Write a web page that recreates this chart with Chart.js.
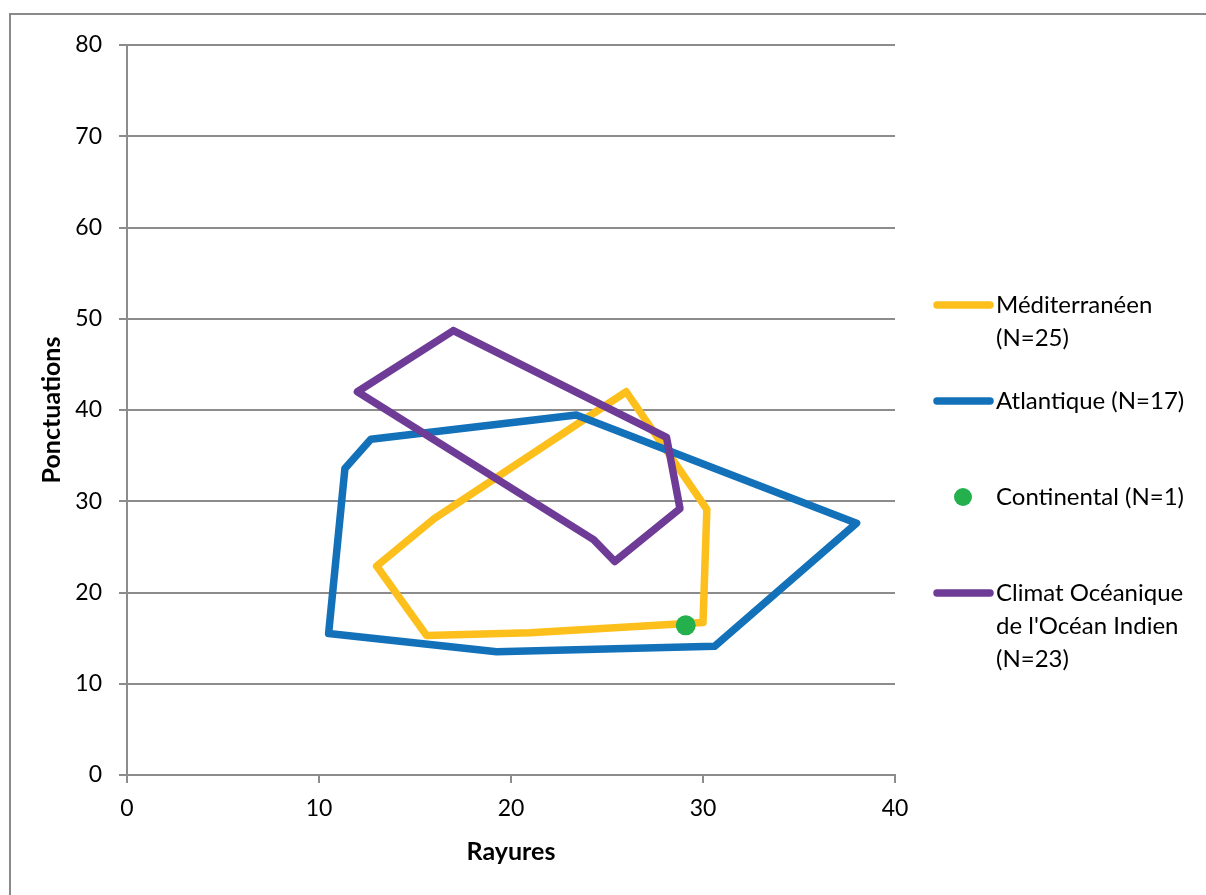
<!DOCTYPE html>
<html>
<head>
<meta charset="utf-8">
<script src="https://cdn.jsdelivr.net/npm/chart.js@4/dist/chart.umd.min.js"></script>
<style>
  html, body { margin: 0; padding: 0; background: #fff; }
  #wrap { position: relative; width: 1206px; height: 895px; overflow: hidden; }
  #frame { position: absolute; left: 9px; top: 13px; width: 1300px; height: 1000px;
           border-left: 2px solid #8a8a8a; border-top: 2px solid #8a8a8a; box-sizing: border-box; }
  canvas { position: absolute; left: 0; top: 0; }
</style>
</head>
<body>
<div id="wrap">
  <div id="frame"></div>
  <canvas id="c" width="1206" height="895"></canvas>
</div>
<script>
// ---- data ----
const xTicks = [0, 10, 20, 30, 40];
const yTicks = [0, 10, 20, 30, 40, 50, 60, 70, 80];

const medLabel = ["Méditerranéen", "(N=25)"];
const medX = [26.0, 30.2, 30.0, 21.0, 15.6, 13.0, 16.0, 26.0];
const medY = [42.0, 29.1, 16.7, 15.6, 15.3, 22.9, 28.1, 42.0];

const atlLabel = ["Atlantique (N=17)"];
const atlX = [23.4, 38.0, 30.6, 19.25, 10.5, 11.35, 12.7, 23.4];
const atlY = [39.45, 27.6, 14.1, 13.5, 15.5, 33.6, 36.8, 39.45];

const conLabel = ["Continental (N=1)"];
const conX = [29.1];
const conY = [16.4];

const ocLabel = ["Climat Océanique", "de l'Océan Indien", "(N=23)"];
const ocX = [17.0, 28.1, 28.8, 25.4, 24.3, 12.0, 17.0];
const ocY = [48.7, 37.0, 29.2, 23.4, 25.8, 42.0, 48.7];

const xTitle = "Rayures";
const yTitle = "Ponctuations";

// ---- build ----
const pts = (xs, ys) => xs.map((x, i) => ({x: x, y: ys[i]}));
const FONT = "Lato, 'Open Sans', sans-serif";
const GRID = '#8c8c8c';

const lineDs = (label, xs, ys, color, order) => ({
  label: label, data: pts(xs, ys), showLine: true, order: order,
  borderColor: color, backgroundColor: color, borderWidth: 7.5,
  borderJoinStyle: 'round', borderCapStyle: 'round',
  pointRadius: 0, pointHoverRadius: 0, fill: false, tension: 0
});

const datasets = [
  lineDs(medLabel, medX, medY, '#FDBF1C', 4),
  lineDs(atlLabel, atlX, atlY, '#1371B9', 3),
  { label: conLabel, data: pts(conX, conY), showLine: false, order: 2,
    pointRadius: 10, pointHoverRadius: 10, pointBackgroundColor: '#23B04D', pointBorderWidth: 0,
    borderColor: '#23B04D', backgroundColor: '#23B04D' },
  lineDs(ocLabel, ocX, ocY, '#6E3B96', 1)
];

const legendPlugin = {
  id: 'customLegend',
  afterDraw(chart) {
    const ctx = chart.ctx;
    const rows = [305, 401, 497, 593];
    ctx.save();
    ctx.font = "24px " + FONT;
    ctx.textBaseline = 'middle';
    ctx.textAlign = 'left';
    chart.data.datasets.forEach((ds, i) => {
      const y = rows[i];
      if (ds.showLine) {
        ctx.strokeStyle = ds.borderColor;
        ctx.lineWidth = 7.5;
        ctx.lineCap = 'round';
        ctx.beginPath();
        ctx.moveTo(937, y);
        ctx.lineTo(990, y);
        ctx.stroke();
      } else {
        ctx.fillStyle = ds.pointBackgroundColor;
        ctx.beginPath();
        ctx.arc(963, y, 9, 0, Math.PI * 2);
        ctx.fill();
      }
      ds.label.forEach((t, k) => {
        ctx.fillStyle = '#000';
        ctx.fillText(t, 996, y + k * 33);
      });
    });
    ctx.restore();
  }
};

new Chart(document.getElementById('c'), {
  type: 'scatter',
  data: { datasets: datasets },
  options: {
    responsive: false,
    animation: false,
    devicePixelRatio: 1,
    layout: { padding: { left: 10, right: 311, top: 45, bottom: 20 } },
    plugins: { legend: { display: false }, tooltip: { enabled: false } },
    scales: {
      x: {
        type: 'linear', min: 0, max: 40,
        afterBuildTicks: (s) => { s.ticks = xTicks.map(v => ({value: v})); },
        afterFit: (s) => { s.height = 100; },
        ticks: { color: '#000', font: { family: FONT, size: 23 }, padding: 12 },
        grid: { drawOnChartArea: false, color: GRID, lineWidth: 2, tickLength: 8, tickColor: GRID },
        border: { color: GRID, width: 2 },
        title: { display: true, text: xTitle, color: '#000',
                 font: { family: FONT, size: 25, weight: 'bold' }, padding: { top: 0, bottom: 8 } }
      },
      y: {
        type: 'linear', min: 0, max: 80,
        afterBuildTicks: (s) => { s.ticks = yTicks.map(v => ({value: v})); },
        afterFit: (s) => { s.width = 117; },
        ticks: { color: '#000', font: { family: FONT, size: 23 }, padding: 17 },
        grid: { color: GRID, lineWidth: 2, tickLength: 8, tickColor: GRID },
        border: { color: GRID, width: 2 },
        title: { display: true, text: yTitle, color: '#000',
                 font: { family: FONT, size: 25, weight: 'bold' }, padding: { top: 27, bottom: 0 } }
      }
    }
  },
  plugins: [legendPlugin]
});
</script>
</body>
</html>
